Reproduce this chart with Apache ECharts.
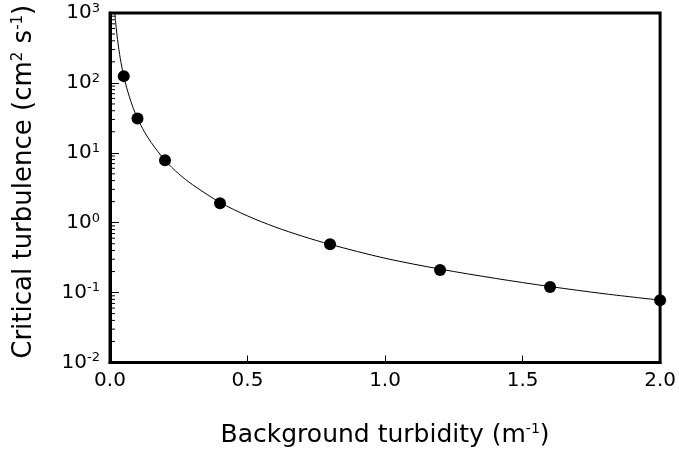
<!DOCTYPE html>
<html><head><meta charset="utf-8">
<script src="https://cdn.jsdelivr.net/npm/echarts@6/dist/echarts.min.js"></script>
<style>html,body{margin:0;padding:0;background:#fff}#c{width:679px;height:453px}</style>
</head><body><div id="c"></div>
<script>
// Measured points
const turbidity = [0.05, 0.1, 0.2, 0.4, 0.8, 1.2, 1.6, 2.0];
const criticalTurb = [125, 31, 7.8, 1.9, 0.49, 0.21, 0.12, 0.078];
// Fitted curve
const curveX = [0.018, 0.02, 0.025, 0.03, 0.035, 0.04, 0.05, 0.06, 0.07, 0.085, 0.1, 0.125, 0.15, 0.2, 0.25, 0.3, 0.4, 0.5, 0.6, 0.7, 0.8, 1.0, 1.2, 1.4, 1.6, 1.8, 2.0];
const curveY = [1000, 780, 500, 350, 255, 195, 125, 87, 64, 43, 31, 20, 14, 7.8, 5.0, 3.5, 1.95, 1.25, 0.87, 0.64, 0.49, 0.31, 0.217, 0.16, 0.122, 0.096, 0.078];
// Y minor tick values (log decades)
const minorTickValues = [];
[0.01, 0.1, 1, 10, 100].forEach(d => { for (let k = 2; k <= 9; k++) minorTickValues.push(+(d * k).toPrecision(3)); });
const xTickLabels = ['0.0', '0.5', '1.0', '1.5', '2.0'];

const FONT = 'DejaVu Sans, Verdana, sans-serif';
const chart = echarts.init(document.getElementById('c'));
chart.setOption({
  animation: false,
  backgroundColor: '#fff',
  grid: { left: 110, right: 18, top: 13, bottom: 90, show: true, borderColor: '#000', borderWidth: 3, containLabel: false },
  xAxis: {
    type: 'value', min: 0, max: 2, interval: 0.5,
    axisLine: { show: true, lineStyle: { color: '#000', width: 3 } },
    axisTick: { inside: true, length: 7, lineStyle: { color: '#000', width: 1 } },
    splitLine: { show: false },
    axisLabel: { color: '#000', fontFamily: FONT, fontSize: 20, margin: 8,
      formatter: v => xTickLabels[Math.round(v / 0.5)] },
    name: '{t|Background turbidity (m}{s|-1}{t|)}',
    nameLocation: 'middle', nameGap: 60,
    nameTextStyle: { rich: {
      t: { fontFamily: FONT, fontSize: 25, color: '#000' },
      s: { fontFamily: FONT, fontSize: 14, color: '#000', verticalAlign: 'top', padding: [0, 0, 12, 0] }
    } }
  },
  yAxis: {
    type: 'log', min: 0.01, max: 1000, logBase: 10,
    axisLine: { show: true, lineStyle: { color: '#000', width: 3 } },
    axisTick: { inside: true, length: 9, lineStyle: { color: '#000', width: 1 } },
    splitLine: { show: false },
    axisLabel: { margin: 10, formatter: v => '{b|10}{s|' + Math.round(Math.log10(v)) + '}',
      rich: {
        b: { fontFamily: FONT, fontSize: 20, color: '#000' },
        s: { fontFamily: FONT, fontSize: 13, color: '#000', verticalAlign: 'top', padding: [0, 0, 9, 0] }
      } },
    name: '{t|Critical turbulence (cm}{s|2}{t| s}{s|-1}{t|)}',
    nameLocation: 'middle', nameGap: 72,
    nameTextStyle: { padding: [0, 0, 0, 12], rich: {
      t: { fontFamily: FONT, fontSize: 26, color: '#000' },
      s: { fontFamily: FONT, fontSize: 15, color: '#000', verticalAlign: 'top', padding: [0, 0, 12, 0] }
    } }
  },
  series: [
    {
      type: 'line', data: curveX.map((x, i) => [x, curveY[i]]), smooth: 0.3,
      showSymbol: false, lineStyle: { color: '#000', width: 1 }, z: 2
    },
    {
      type: 'scatter', data: turbidity.map((x, i) => [x, criticalTurb[i]]),
      symbol: 'circle', symbolSize: 12, itemStyle: { color: '#000', opacity: 1 }, z: 3
    },
    {
      type: 'custom', data: minorTickValues.map(v => [0, v]), silent: true, z: 4,
      renderItem: (params, api) => {
        const p = api.coord([0, api.value(1)]);
        return { type: 'line', shape: { x1: p[0], y1: p[1], x2: p[0] + 5, y2: p[1] },
          style: { stroke: '#000', lineWidth: 1 } };
      }
    }
  ]
});
</script></body></html>
